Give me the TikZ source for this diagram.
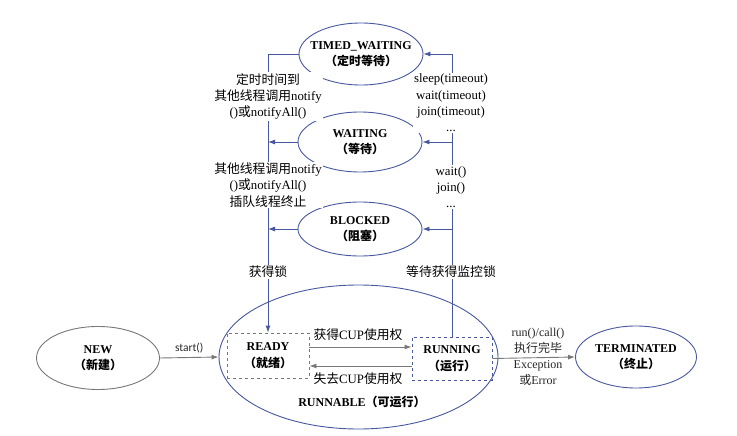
\documentclass[tikz,border=0pt]{standalone}
\usepackage{fontspec}
\setmainfont{Liberation Serif}
\newfontfamily\cjkf{Noto Sans CJK SC}
\newfontfamily\calf{Carlito}
\newcommand\zh[1]{{\cjkf #1}}
\usetikzlibrary{shapes.geometric,arrows.meta}
\definecolor{lblue}{RGB}{72,88,160}
\definecolor{lgray}{RGB}{120,120,120}
\tikzset{
  state/.style={ellipse,draw=lblue,line width=0.9pt,inner sep=0pt,
    label={[align=center,font=\fontsize{12}{16.5}\selectfont\bfseries]center:#1}},
  box/.style={rectangle,draw,dashed,line width=0.9pt,inner sep=0pt,align=center,
    font=\fontsize{12}{16.5}\selectfont\bfseries},
  lbl/.style={fill=white,inner sep=1pt,align=center,font=\fontsize{12.8}{16.3}\selectfont},
  bl/.style={draw=lblue,line width=0.9pt,-{Latex[length=7pt,width=5pt]}},
  gl/.style={draw=lgray,line width=0.9pt,-{Latex[length=7pt,width=5pt]}}
}
\begin{document}
\begin{tikzpicture}[x=1pt,y=-1pt]
\useasboundingbox (0,0) rectangle (737,436);
% big runnable ellipse
\node[ellipse,draw=lblue,line width=0.9pt,minimum width=279,minimum height=144] (RA) at (358.5,357) {};
\node[state={TIMED\_WAITING\\\zh{（定时等待）}},minimum width=124,minimum height=62] (TW) at (361,54) {};
\node[state={WAITING\\\zh{（等待）}},minimum width=124,minimum height=60] (W) at (360,142) {};
\node[state={BLOCKED\\\zh{（阻塞）}},minimum width=124,minimum height=54] (B) at (360,229) {};
\node[state={NEW\\\zh{（新建）}},draw=lgray,minimum width=123,minimum height=63] (NEW) at (98,358) {};
\node[state={TERMINATED\\\zh{（终止）}},minimum width=121,minimum height=62] (T) at (636,357) {};
\node[box,draw=lgray,minimum width=82,minimum height=45] (RD) at (268,355.5) {READY\\\zh{（就绪）}};
\node[box,draw=lblue,minimum width=80,minimum height=43] (RN) at (452,358.5) {RUNNING\\\zh{（运行）}};
\coordinate (ya) at (0,347);
\coordinate (yb) at (0,366);
% left side connectors
\draw[bl] (TW.west) -| (RD.north);
\draw[bl] (W.west) -- (W.west -| RD.north);
\draw[bl] (B.west) -- (B.west -| RD.north);
% right side connectors
\draw[bl] (RN.north) |- (TW.east);
\draw[bl] (RN.north |- W.east) -- (W.east);
\draw[bl] (RN.north |- B.east) -- (B.east);
% gray connectors
\draw[gl] (NEW.east) -- (RA.west) node[midway,above=1pt,font=\calf\fontsize{11.5}{13}\selectfont,text=black!85] {start()};
\draw[gl] (RD.east |- ya) -- (RN.west |- ya);
\draw[gl] (RN.west |- yb) -- (RD.east |- yb);
\draw[gl] (RN.east) -- (T.west);
% labels
\node[lbl] (l1) at (268,96.5) {\zh{定时时间到}\\\zh{其他线程调用}notify\\()\zh{或}notifyAll()};
\node[lbl] (l2) at (268,185) {\zh{其他线程调用}notify\\()\zh{或}notifyAll()\\\zh{插队线程终止}};
\node[lbl] (l3) at (268,272) {\zh{获得锁}};
\node[lbl] (r1) at (451,103) {sleep(timeout)\\wait(timeout)\\join(timeout)\\...};
\node[lbl] (r2) at (451,187) {wait()\\join()\\...};
\node[lbl] (r3) at (451,272) {\zh{等待获得监控锁}};
\node[lbl,fill=none] (c1) at (358,335) {\zh{获得}CUP\zh{使用权}};
\node[lbl,fill=none] (c2) at (358,379) {\zh{失去}CUP\zh{使用权}};
\node[lbl,fill=none,font=\fontsize{12}{16}\selectfont\bfseries] (rl) at (362,402) {RUNNABLE\zh{（可运行）}};
\node[lbl,fill=none,font=\fontsize{12}{16}\selectfont,text=black!85] (tl) at (538,357) {run()/call()\\\zh{执行完毕}\\Exception\\\zh{或}Error};
\end{tikzpicture}
\end{document}
